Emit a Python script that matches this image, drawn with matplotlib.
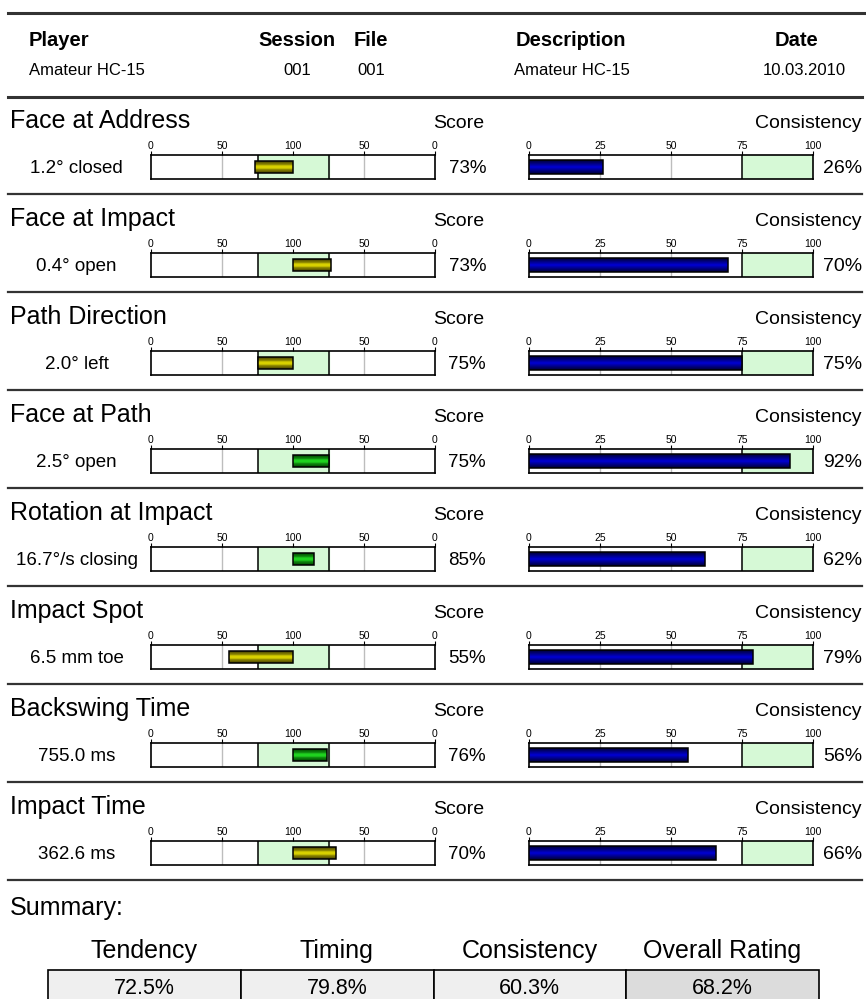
import numpy as np
import matplotlib
matplotlib.use("Agg")
import matplotlib.pyplot as plt
from matplotlib.lines import Line2D
from matplotlib.colors import to_rgb

plt.rcParams["font.family"] = ["Liberation Sans", "DejaVu Sans"]

# ---- data -------------------------------------------------------------
header_names = ["Player", "Session", "File", "Description", "Date"]
header_values = ["Amateur HC-15", "001", "001", "Amateur HC-15", "10.03.2010"]

metrics = ["Face at Address", "Face at Impact", "Path Direction", "Face at Path",
           "Rotation at Impact", "Impact Spot", "Backswing Time", "Impact Time"]
readings = ["1.2° closed", "0.4° open", "2.0° left", "2.5° open",
            "16.7°/s closing", "6.5 mm toe", "755.0 ms", "362.6 ms"]
scores = [73, 73, 75, 75, 85, 55, 76, 70]
score_side = [-1, 1, -1, 1, 1, -1, 1, 1]          # -1 = left of target, 1 = right
score_ok = [False, False, False, True, True, False, True, False]
consistency = [26, 70, 75, 92, 62, 79, 56, 66]

summary_names = ["Tendency", "Timing", "Consistency", "Overall Rating"]
summary_values = [72.5, 79.8, 60.3, 68.2]

score_ticks = [0, 50, 100, 150, 200]
score_ticklabels = ["0", "50", "100", "50", "0"]
cons_ticks = [0, 25, 50, 75, 100]

# ---- layout helpers (pixel positions) --------------------------------
W, H = 866, 999
fig = plt.figure(figsize=(W / 100, H / 100), dpi=100)


def fx(x):
    return x / W


def fy(y):
    return 1 - y / H


def add_ax(x0, y0, x1, y1):
    return fig.add_axes([fx(x0), fy(y1), (x1 - x0) / W, (y1 - y0) / H])


def hline(y, x0=8, x1=862, lw=1.6, color="#333333"):
    fig.add_artist(Line2D([fx(x0), fx(x1)], [fy(y), fy(y)], color=color, lw=lw))


def shaded_bar(ax, left, width, height, dark, light):
    # fake the 3-D look: stack bars, outer dark -> inner light
    n = 7
    d, l = np.array(to_rgb(dark)), np.array(to_rgb(light))
    for k in range(n):
        t = k / (n - 1)
        ax.barh(0, width, left=left, height=height * (1 - 0.85 * t),
                color=d + (l - d) * t, linewidth=0, zorder=3 + k * 0.01)
    ax.barh(0, width, left=left, height=height, fill=False,
            edgecolor="black", linewidth=1.1, zorder=4)


def style_box(ax, xlim, ticks, labels):
    ax.set_xlim(*xlim)
    ax.set_ylim(-0.5, 0.5)
    ax.xaxis.tick_top()
    ax.set_xticks(ticks)
    ax.set_xticklabels(labels)
    ax.tick_params(axis="x", length=3, width=0.8, pad=0, labelsize=7.5)
    ax.set_yticks([])
    for s in ax.spines.values():
        s.set_linewidth(1.2)


# ---- header -----------------------------------------------------------
hline(13, 8, 866, lw=2.2)
hdr_x = [29, 297, 371, 571, 797]
val_x = [29, 297, 371, 572, 804]
hdr_ha = ["left", "center", "center", "center", "center"]
for name, val, x, vx, ha in zip(header_names, header_values, hdr_x, val_x, hdr_ha):
    fig.text(fx(x), fy(46), name, ha=ha, va="baseline", fontsize=14.5, fontweight="bold")
    fig.text(fx(vx), fy(75), val, ha=ha, va="baseline", fontsize=12)
hline(97, 8, 862, lw=2.2)

# ---- metric rows ------------------------------------------------------
STEP = 98
for i in range(len(metrics)):
    o = STEP * i
    fig.text(fx(10), fy(128 + o), metrics[i], ha="left", va="baseline", fontsize=18)
    fig.text(fx(484), fy(128 + o), "Score", ha="right", va="baseline", fontsize=14)
    fig.text(fx(861), fy(128 + o), "Consistency", ha="right", va="baseline", fontsize=14)
    fig.text(fx(76.5), fy(173 + o), readings[i], ha="center", va="baseline", fontsize=13.5)
    fig.text(fx(486), fy(173 + o), f"{scores[i]}%", ha="right", va="baseline", fontsize=13.5)
    fig.text(fx(862), fy(173 + o), f"{consistency[i]}%", ha="right", va="baseline", fontsize=14)

    # score bar (0 .. 100 .. 0, target in the middle)
    ax = add_ax(151, 155 + o, 435, 179 + o)
    style_box(ax, (0, 200), score_ticks, score_ticklabels)
    ax.axvspan(75, 125, color="#d6f9d6", zorder=0)
    for v in (50, 150):
        ax.axvline(v, color="#bdbdbd", lw=1, zorder=1)
    for v in (75, 125):
        ax.axvline(v, color="black", lw=1.1, zorder=2)
    end = 100 + score_side[i] * (100 - scores[i])
    left, width = min(end, 100), abs(100 - end)
    if score_ok[i]:
        shaded_bar(ax, left, width, 0.46, "#004a00", "#1fd21f")
    else:
        shaded_bar(ax, left, width, 0.46, "#4a4500", "#d8d000")

    # consistency bar
    ax = add_ax(529, 155 + o, 813, 179 + o)
    style_box(ax, (0, 100), cons_ticks, [str(t) for t in cons_ticks])
    ax.axvspan(75, 100, color="#d6f9d6", zorder=0)
    for v in (25, 50):
        ax.axvline(v, color="#bdbdbd", lw=1, zorder=1)
    ax.axvline(75, color="black", lw=1.1, zorder=2)
    shaded_bar(ax, 0, consistency[i], 0.62, "#00003a", "#0000c8")

    hline(194 + o)

# ---- summary ----------------------------------------------------------
fig.text(fx(10), fy(915), "Summary:", ha="left", va="baseline", fontsize=18)
cell_edges = [48, 240, 433, 626, 819]
for k, name in enumerate(summary_names):
    cx = (cell_edges[k] + cell_edges[k + 1]) / 2
    fig.text(fx(cx), fy(958), name, ha="center", va="baseline", fontsize=18)

tax = add_ax(cell_edges[0], 970, cell_edges[-1], 1006)
tax.axis("off")
tbl = tax.table(cellText=[[f"{v:.1f}%" for v in summary_values]],
                cellColours=[["#efefef", "#efefef", "#efefef", "#dcdcdc"]],
                cellLoc="center", bbox=[0, 0, 1, 1])
tbl.auto_set_font_size(False)
for cell in tbl.get_celld().values():
    cell.set_fontsize(15.5)
    cell.set_linewidth(1.2)
    cell.get_text().set_va("center")

fig.savefig("out.png", dpi=100)
